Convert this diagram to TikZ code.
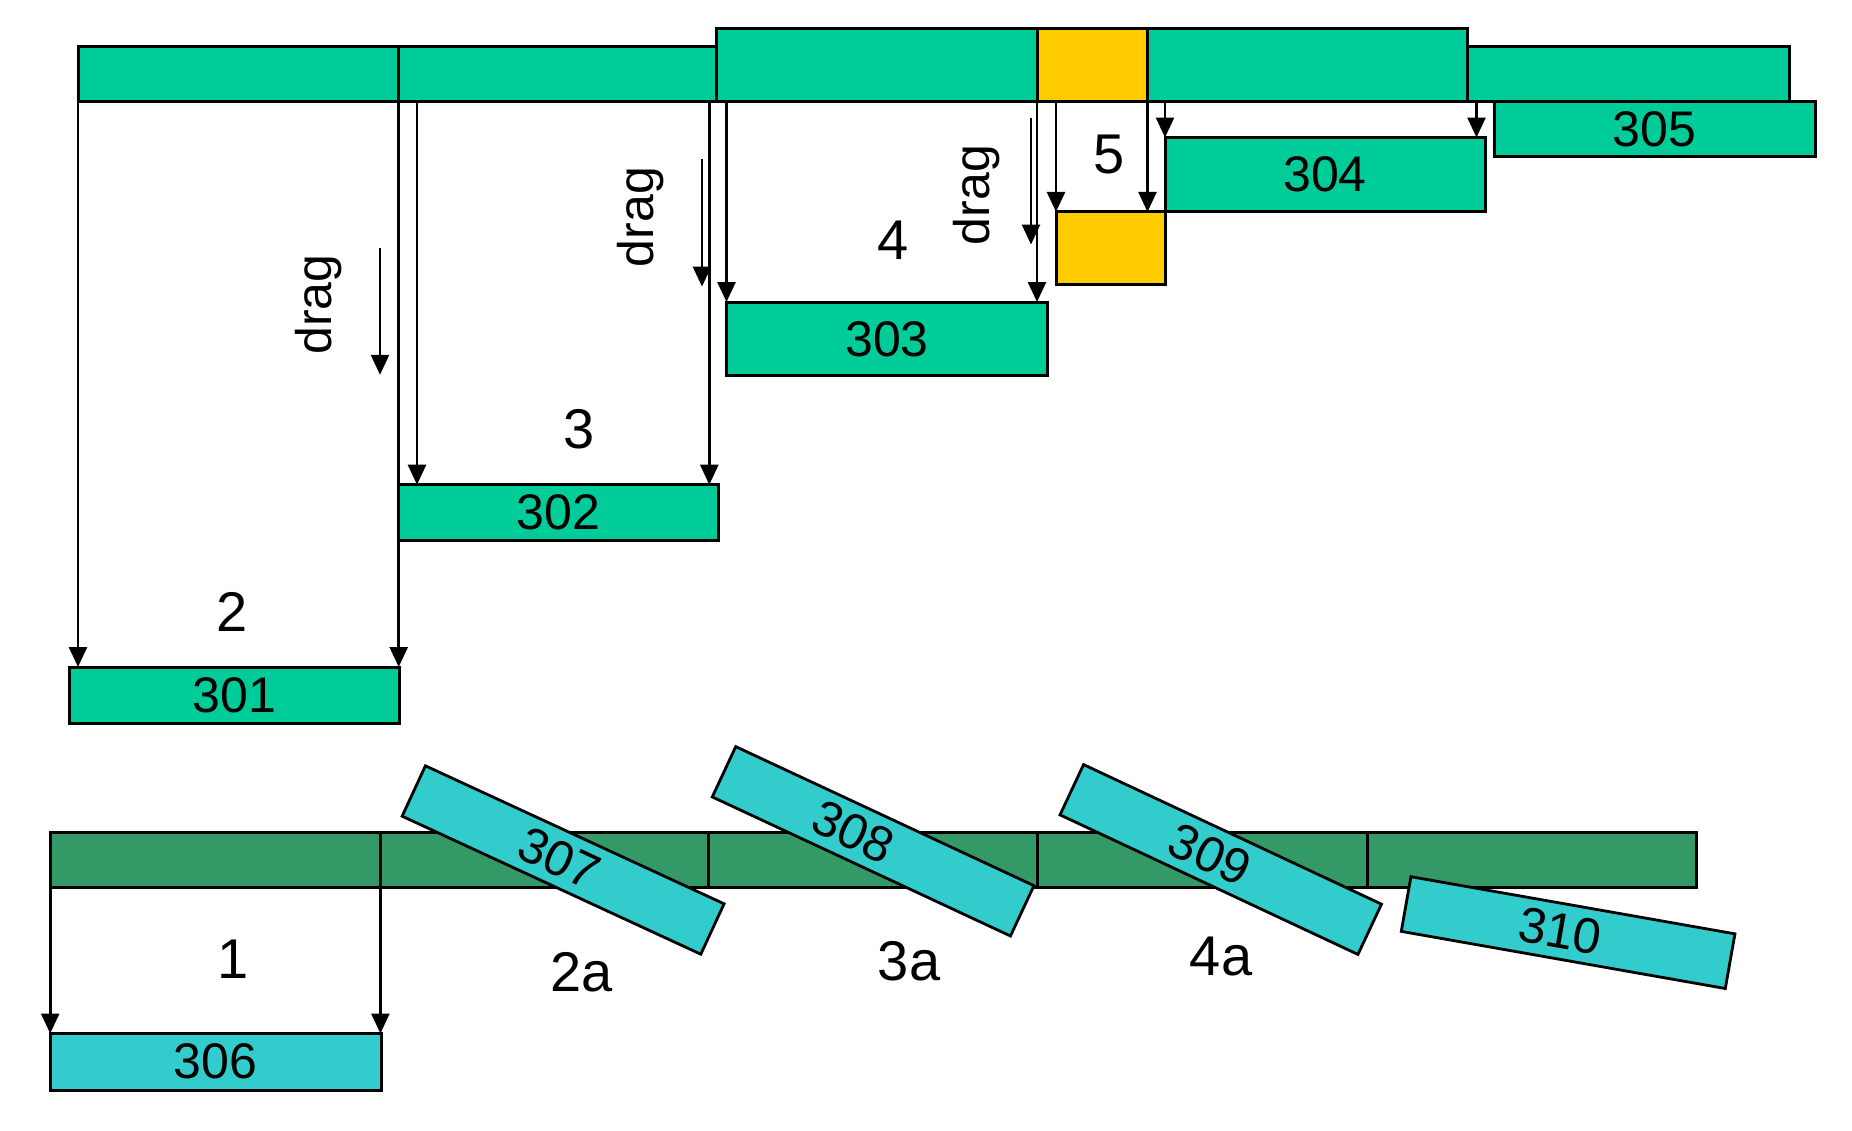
\documentclass[tikz,border=0pt]{standalone}
\usepackage{fontspec}
\setmainfont{Liberation Sans}
\usetikzlibrary{arrows.meta}
\definecolor{tgreen}{HTML}{00CC99}
\definecolor{tyellow}{HTML}{FFCC00}
\definecolor{bgreen}{HTML}{339966}
\definecolor{tcyan}{HTML}{33CCCC}
\begin{document}
\begin{tikzpicture}[x=1pt,y=-1pt,
  seg/.style={draw=black, line width=3pt, inner sep=0pt, outer sep=0pt, anchor=north west},
  num/.style={font=\fontsize{50}{60}\selectfont},
  steplbl/.style={font=\fontsize{56}{66}\selectfont, inner sep=0pt},
  draglbl/.style={font=\fontsize{50}{60}\selectfont, inner sep=0pt, rotate=90},
  rbox/.style={draw=black, line width=2.8pt, fill=tcyan, inner sep=0pt, outer sep=0pt,
    minimum width=329pt, minimum height=55.5pt, font=\fontsize{50}{60}\selectfont},
  arr/.style={line width=2.6pt, -{Triangle[length=20pt,width=18pt]}},
]
\useasboundingbox (0,0) rectangle (1852,1130);

% top bar
\node[seg, fill=tgreen, minimum width=320.7pt, minimum height=54.8pt] (t1) at (78,46.8) {};
\node[seg, fill=tgreen, minimum width=317.8pt, minimum height=54.8pt] (t2) at (398.7,46.8) {};
\node[seg, fill=tgreen, minimum width=320.5pt, minimum height=73.5pt] (t3) at (716.5,28.1) {};
\node[seg, fill=tyellow, minimum width=110.5pt, minimum height=73.5pt] (ty) at (1037,28.1) {};
\node[seg, fill=tgreen, minimum width=320.1pt, minimum height=73.5pt] (t4) at (1147.5,28.1) {};
\node[seg, fill=tgreen, minimum width=322pt, minimum height=55.5pt] (t5) at (1467.6,46.1) {};

% dragged boxes
\node[seg, fill=tgreen, num, minimum width=329.6pt, minimum height=56.6pt] (b301) at (69.7,667) {301};
\node[seg, fill=tgreen, num, minimum width=319.3pt, minimum height=55.8pt] (b302) at (398.7,484.7) {302};
\node[seg, fill=tgreen, num, minimum width=321pt, minimum height=73.6pt] (b303) at (726.5,302) {303};
\node[seg, fill=tgreen, num, minimum width=320pt, minimum height=74.4pt] (b304) at (1165,137.5) {304};
\node[seg, fill=tgreen, num, minimum width=321pt, minimum height=55.2pt] (b305) at (1494,101.6) {305};
\node[seg, fill=tyellow, minimum width=109.5pt, minimum height=72.8pt] (ys) at (1056,211.9) {};

% arrows top
\draw[arr] (t1.south west) -- (t1.south west |- b301.north);
\draw[arr] (t1.south east) -- (t1.south east |- b301.north);
\coordinate (p3) at ([xshift=18.3pt]t2.south west);
\coordinate (p4) at ([xshift=-7.2pt]t2.south east);
\draw[arr] (p3) -- (p3 |- b302.north);
\draw[arr] (p4) -- (p4 |- b302.north);
\draw[arr] (b303.north west |- t3.south) -- (b303.north west);
\draw[arr] (t3.south east) -- (t3.south east |- b303.north);
\draw[arr] (ys.north west |- ty.south) -- (ys.north west);
\draw[arr] (ty.south east) -- (ty.south east |- ys.north);
\coordinate (p10) at ([xshift=-8.5pt]b304.north east);
\draw[arr] (b304.north west |- t4.south) -- (b304.north west);
\draw[arr] (p10 |- t4.south) -- (p10);

% drag arrows
\coordinate (d1s) at (380,248); \coordinate (d1e) at (380,374.8);
\coordinate (d2s) at (702,159); \coordinate (d2e) at (702,286.6);
\coordinate (d3s) at (1031,117.5); \coordinate (d3e) at (1031,244.5);
\draw[arr] (d1s) -- (d1e);
\draw[arr] (d2s) -- (d2e);
\draw[arr] (d3s) -- (d3e);
\node[draglbl] (dr1) at (319,304.5) {drag};
\node[draglbl] (dr2) at (641,217) {drag};
\node[draglbl] (dr3) at (977,195) {drag};

% step labels
\node[steplbl] (s2) at (231.7,611.7) {2};
\node[steplbl] (s3) at (579,429) {3};
\node[steplbl] (s4) at (893.3,240.7) {4};
\node[steplbl] (s5) at (1109.3,155) {5};

% bottom bar
\node[seg, fill=bgreen, minimum width=330.2pt, minimum height=55.1pt] (g1) at (50.2,832.4) {};
\node[seg, fill=bgreen, minimum width=328.4pt, minimum height=55.1pt] (g2) at (380.4,832.4) {};
\node[seg, fill=bgreen, minimum width=328.2pt, minimum height=55.1pt] (g3) at (708.8,832.4) {};
\node[seg, fill=bgreen, minimum width=330pt, minimum height=55.1pt] (g4) at (1037,832.4) {};
\node[seg, fill=bgreen, minimum width=329.8pt, minimum height=55.1pt] (g5) at (1367,832.4) {};

\node[seg, fill=tcyan, num, minimum width=330.8pt, minimum height=56.5pt] (b306) at (50.2,1033.5) {306};
\draw[arr] (g1.south west) -- (g1.south west |- b306.north);
\draw[arr] (g1.south east) -- (g1.south east |- b306.north);

% tilted boxes
\node[rbox, rotate=-24.8] (b307) at (563.1,860) {307\hspace*{8pt}};
\node[rbox, rotate=-25.0] (b308) at (873.1,841.3) {308\hspace*{44pt}};
\node[rbox, rotate=-25.1] (b309) at (1220.75,859.5) {309\hspace*{24pt}};
\node[rbox, rotate=-10.0] (b310) at (1568.1,932.6) {310\hspace*{16pt}};

\node[steplbl] (s1) at (233.3,959.6) {1};
\node[steplbl] (s2a) at (582,972) {2a};
\node[steplbl] (s3a) at (909,961) {3a};
\node[steplbl] (s4a) at (1221,956) {4a};
\end{tikzpicture}
\end{document}
